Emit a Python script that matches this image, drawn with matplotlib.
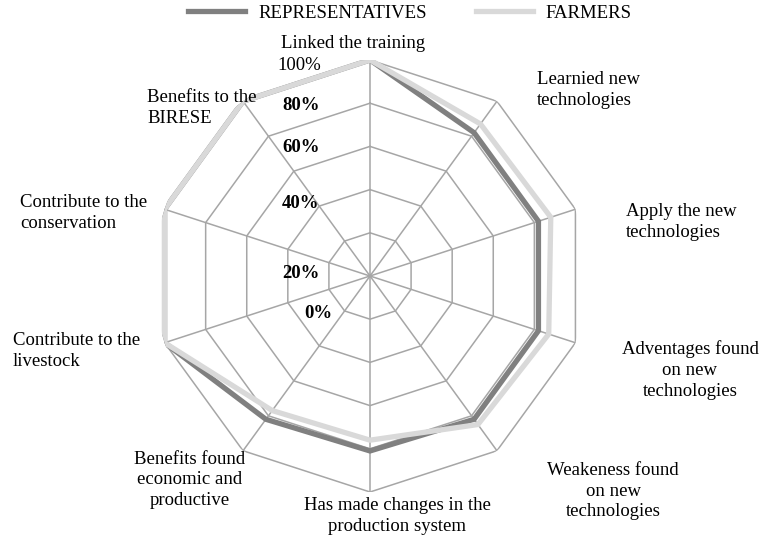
import numpy as np
import matplotlib
matplotlib.use("Agg")
import matplotlib.pyplot as plt

categories = ["Linked the training", "Learnied new\ntechnologies", "Apply the new\ntechnologies",
              "Adventages found\non new\ntechnologies", "Weakeness found\non new\ntechnologies",
              "Has made changes in the\nproduction system", "Benefits found\neconomic and\nproductive",
              "Contribute to the\nlivestock", "Contribute to the\nconservation", "Benefits to the\nBIRESE"]
representatives = [100, 82, 82, 82, 82, 81, 82, 100, 100, 100]
farmers = [100, 87, 88, 87, 85, 76, 77, 100, 100, 100]
ring_levels = [20, 40, 60, 80, 100]
tick_labels = ["0%", "20%", "40%", "60%", "80%", "100%"]

W, H = 761, 537
plt.rcParams['font.family'] = ['Liberation Serif', 'DejaVu Serif']
fig = plt.figure(figsize=(W / 100, H / 100), dpi=100)

cx, cy, R = 370, 276, 216
ax = fig.add_axes([(cx - R) / W, (H - cy - R) / H, 2 * R / W, 2 * R / H], projection='polar')
ax.set_theta_zero_location('N')
ax.set_theta_direction(-1)
ax.set_ylim(0, 100)
ax.grid(False)
ax.spines['polar'].set_visible(False)
ax.set_xticks([])
ax.set_yticks([])
ax.patch.set_visible(False)

n = len(categories)
theta = np.linspace(0, 2 * np.pi, n, endpoint=False)
theta_c = np.append(theta, theta[0])
gcol = '#a6a6a6'
for lv in ring_levels:
    ax.plot(theta_c, [lv] * (n + 1), color=gcol, lw=1.1, zorder=1)
for t in theta:
    ax.plot([t, t], [0, 100], color=gcol, lw=1.1, zorder=1)

ax.plot(theta_c, representatives + representatives[:1], color='#808080', lw=3.8,
        solid_joinstyle='miter', zorder=3, label='REPRESENTATIVES')
ax.plot(theta_c, farmers + farmers[:1], color='#d9d9d9', lw=3.8,
        solid_joinstyle='miter', zorder=4, label='FARMERS')

fs = 13.5
# category labels: (x, y, ha) in pixels
label_pos = [(353, 44, 'center'), (537, 90, 'left'), (626, 222, 'left'),
             (690, 370, 'center'), (613, 491, 'center'), (397, 516, 'center'),
             (190, 480, 'center'), (13, 351, 'left'), (20, 213, 'left'), (147, 108, 'left')]
for lab, (x, y, ha) in zip(categories, label_pos):
    fig.text(x / W, 1 - y / H, lab, ha=ha, va='center', fontsize=fs, linespacing=1.3,
             multialignment='center' if ha == 'center' else 'left')

tick_pos = [(318, 313), (301, 273), (301, 203), (301, 148), (301, 106), (299, 65)]
for lab, (x, y) in zip(tick_labels, tick_pos):
    fig.text(x / W, 1 - y / H, lab, ha='center', va='center', fontsize=fs,
             fontweight='normal' if lab == '100%' else 'bold')

fig.legend(loc='center', bbox_to_anchor=(410 / W, 1 - 13 / H), ncol=2, frameon=False,
           fontsize=fs, handlelength=3.04, handletextpad=0.7, columnspacing=2.6)

fig.savefig('out.png', dpi=100)
